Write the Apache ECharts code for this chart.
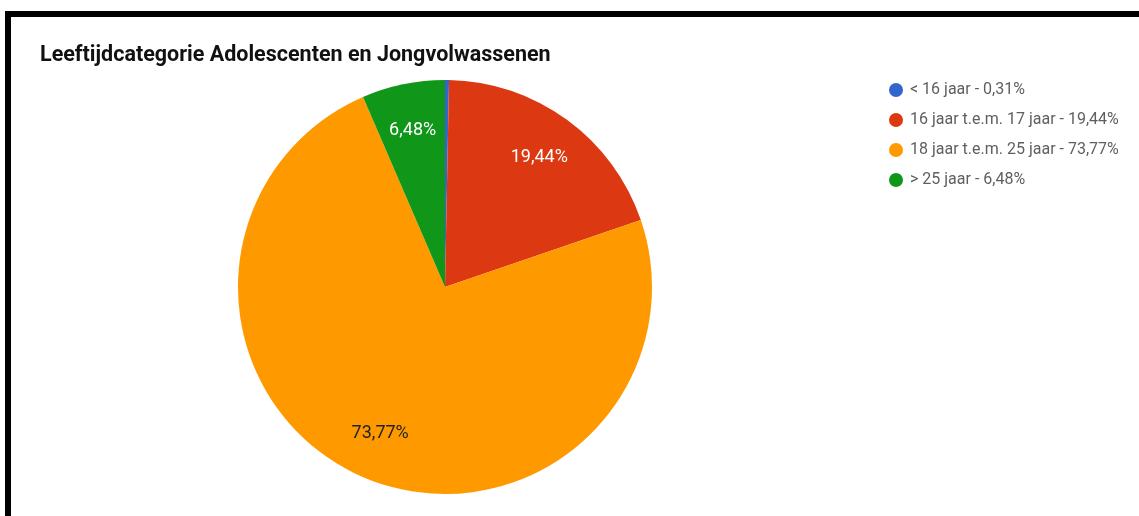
<!DOCTYPE html>
<html>
<head>
<meta charset="utf-8">
<script src="https://cdn.jsdelivr.net/npm/echarts@6/dist/echarts.min.js"></script>
<style>
  html, body { margin: 0; padding: 0; background: #fff; }
  #frame {
    position: absolute; left: 5px; top: 11px; right: 0; bottom: 0;
    border-top: 6px solid #000; border-left: 6px solid #000;
  }
  #chart { position: absolute; left: 0; top: 0; width: 1139px; height: 516px; }
</style>
</head>
<body>
<div id="frame"></div>
<div id="chart"></div>
<script>
// Age groups and their share of the total (percent)
const categories = ['< 16 jaar', '16 jaar t.e.m. 17 jaar', '18 jaar t.e.m. 25 jaar', '> 25 jaar'];
const shares = [0.31, 19.44, 73.77, 6.48];
const colors = ['#3366cc', '#dc3912', '#ff9900', '#109618'];
const labelColors = ['#ffffff', '#ffffff', '#222222', '#ffffff'];

const fmt = v => v.toFixed(2).replace('.', ',') + '%';

const pieData = categories.map((name, i) => ({
  name: name,
  value: shares[i],
  itemStyle: { color: colors[i] }
}));

// Label ring: same slices, transparent, so labels sit further out from the centre
const labelData = categories.map((name, i) => ({
  name: name,
  value: shares[i],
  itemStyle: { color: 'rgba(0,0,0,0)' },
  label: { show: shares[i] >= 1, color: labelColors[i] }
}));

const chart = echarts.init(document.getElementById('chart'));
chart.setOption({
  animation: false,
  title: {
    text: 'Leeftijdcategorie Adolescenten en Jongvolwassenen',
    left: 35, top: 40,
    textStyle: { fontFamily: 'Roboto', fontWeight: 'bold', fontSize: 21.5, color: '#111' }
  },
  legend: {
    orient: 'vertical',
    left: 884, top: 77,
    icon: 'circle',
    itemWidth: 14, itemHeight: 14, itemGap: 14,
    data: categories,
    formatter: name => name + ' - ' + fmt(shares[categories.indexOf(name)]),
    textStyle: { fontFamily: 'Roboto', fontSize: 16, color: '#5f5f5f', padding: [0, 0, 0, 2], lineHeight: 14 }
  },
  series: [
    {
      type: 'pie',
      center: [445, 287],
      radius: [0, 207],
      startAngle: 90,
      clockwise: true,
      label: { show: false },
      labelLine: { show: false },
      itemStyle: { borderWidth: 0 },
      emphasis: { scale: false },
      data: pieData
    },
    {
      type: 'pie',
      silent: true,
      center: [445, 287],
      radius: [107, 207],
      startAngle: 90,
      clockwise: true,
      label: {
        position: 'inside',
        fontFamily: 'Roboto', fontSize: 18,
        formatter: p => fmt(p.value)
      },
      labelLine: { show: false },
      itemStyle: { borderWidth: 0 },
      data: labelData
    }
  ]
});
</script>
</body>
</html>
